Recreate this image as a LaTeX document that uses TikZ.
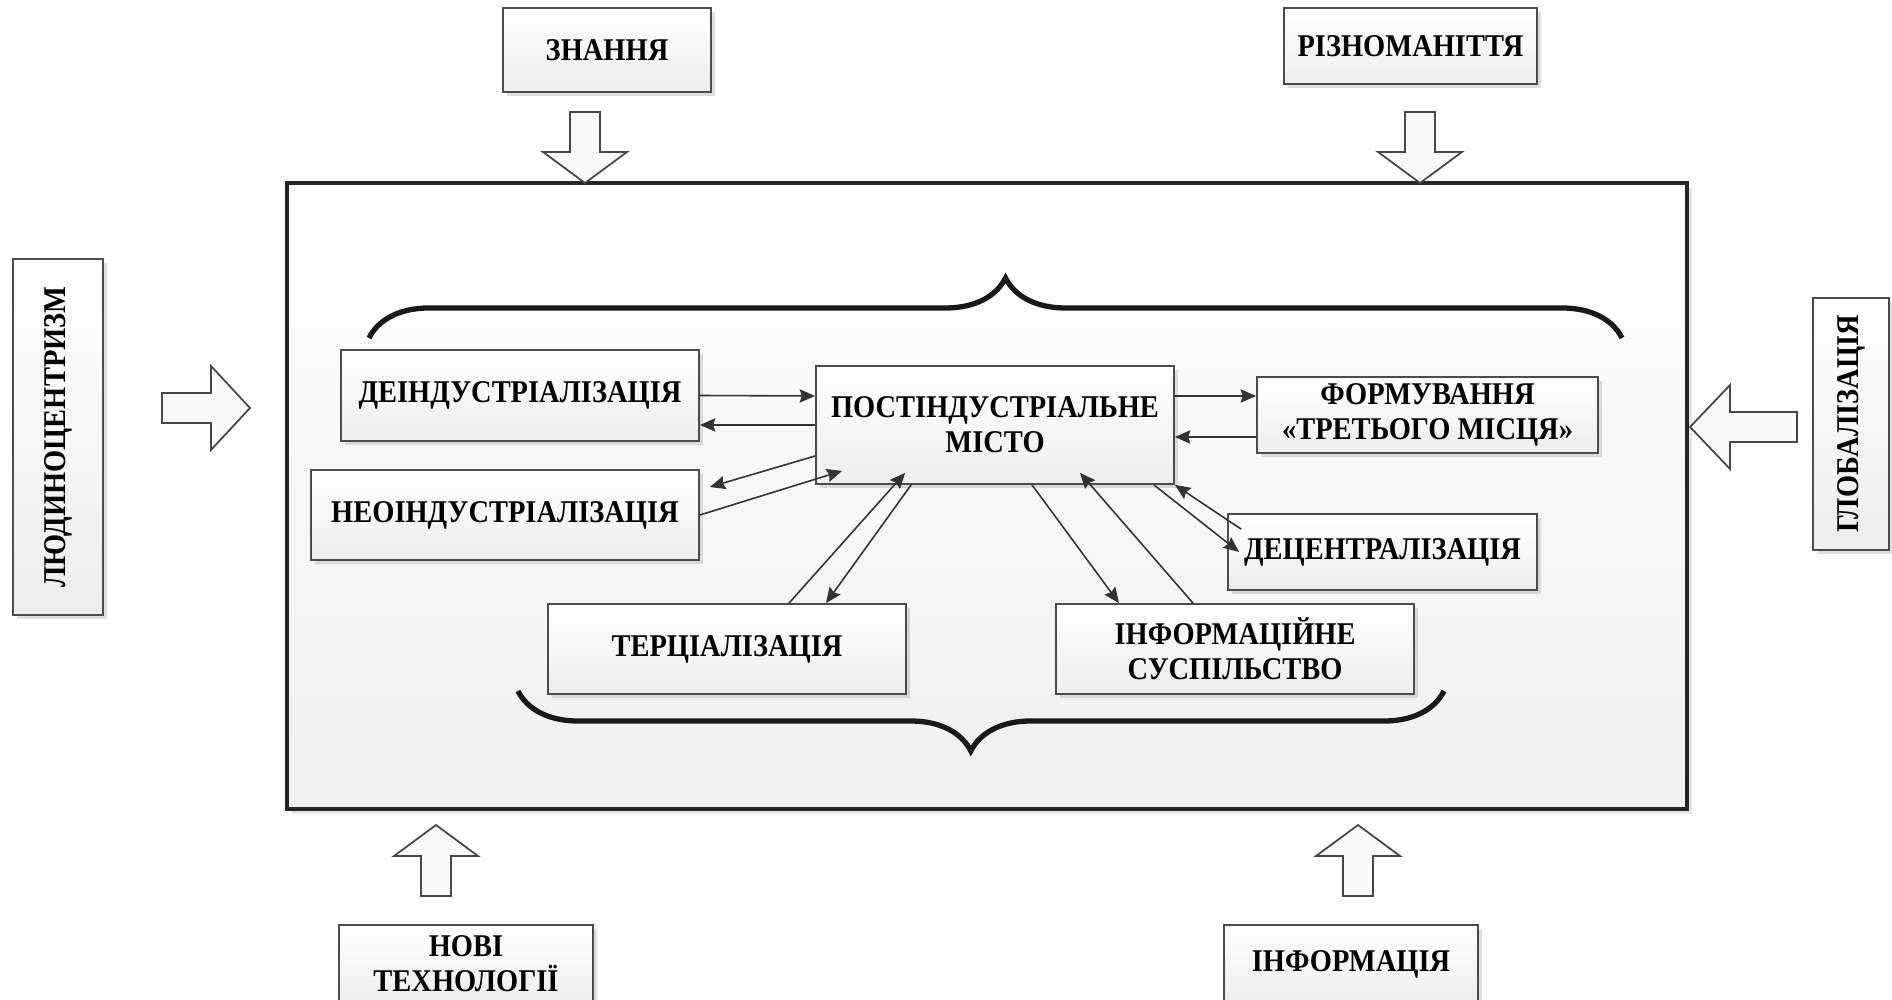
\documentclass[tikz,border=0pt]{standalone}
\usepackage{fontspec}
\setmainfont{Liberation Serif}[FakeStretch=0.9]
\usetikzlibrary{arrows.meta,shadows,decorations.pathreplacing}

\begin{document}
\begin{tikzpicture}
  [every node/.style={draw=gray!60!black,line width=0.5pt,top color=white,bottom color=gray!14,
     drop shadow={shadow xshift=0.4mm,shadow yshift=-0.4mm,opacity=0.25},
     align=center,inner sep=1pt,font=\bfseries\fontsize{9}{10}\selectfont},
   link/.style={draw=gray!40!black,line width=0.45pt,-{Stealth[length=4.4pt,width=3.8pt,inset=0.6pt]}},
   block/.style={draw=gray!55!black,line width=0.5pt,fill=gray!5},
   curly/.style={decorate,decoration={brace,amplitude=0.6cm,aspect=#1},draw=gray!20!black,line width=1.5pt}]
  \useasboundingbox (0,0) rectangle (18.92,-10);
  \clip (0,0) rectangle (18.92,-10);

  % frame and braces
  \draw[draw=gray!30!black,line width=0.9pt,top color=white,bottom color=gray!12,
    drop shadow={shadow xshift=0.5mm,shadow yshift=-0.5mm,opacity=0.2}] (2.87,-1.83) rectangle (16.87,-8.09);
  \draw[curly=0.508] (3.69,-3.38) -- (16.22,-3.38);
  \draw[curly=0.511] (14.44,-6.91) -- (5.18,-6.91);

  % block arrows
  \foreach \x/\y/\r/\h/\l in {5.85/-1.83/0/0.31/0.71, 14.20/-1.83/0/0.31/0.71,
      4.36/-8.25/180/0.31/0.71, 13.58/-8.25/180/0.31/0.71,
      2.50/-4.08/90/0.39/0.88, 16.90/-4.27/-90/0.40/1.07}
    \draw[block,shift={(\x,\y)},rotate=\r] (0,0) -- (0.42,\h) -- (0.15,\h) -- (0.15,\l)
      -- (-0.15,\l) -- (-0.15,\h) -- (-0.42,\h) -- cycle;

  \node (zn) at (6.07,-0.50) [minimum width=2.08cm,minimum height=0.84cm] {ЗНАННЯ};
  \node (riz) at (14.105,-0.46) [minimum width=2.53cm,minimum height=0.76cm] {РІЗНОМАНІТТЯ};
  \node (lyud) at (0.58,-4.37) [rotate=90,minimum width=3.56cm,minimum height=0.90cm] {ЛЮДИНОЦЕНТРИЗМ};
  \node (glob) at (18.51,-4.24) [rotate=90,minimum width=2.52cm,minimum height=0.76cm] {ГЛОБАЛІЗАЦІЯ};
  \node (novi) at (4.66,-9.64) [minimum width=2.54cm,minimum height=0.78cm] {НОВІ\\ТЕХНОЛОГІЇ};
  \node (info) at (13.51,-9.64) [minimum width=2.54cm,minimum height=0.78cm] {ІНФОРМАЦІЯ};

  \node (de) at (5.20,-3.955) [minimum width=3.58cm,minimum height=0.91cm] {ДЕІНДУСТРІАЛІЗАЦІЯ};
  \node (neo) at (5.05,-5.15) [minimum width=3.88cm,minimum height=0.90cm] {НЕОІНДУСТРІАЛІЗАЦІЯ};
  \node (post) at (9.95,-4.25) [minimum width=3.58cm,minimum height=1.18cm] {ПОСТІНДУСТРІАЛЬНЕ\\МІСТО};
  \node (form) at (14.275,-4.15) [minimum width=3.41cm,minimum height=0.76cm] {ФОРМУВАННЯ\\«ТРЕТЬОГО МІСЦЯ»};
  \node (dec) at (13.825,-5.52) [minimum width=3.09cm,minimum height=0.76cm] {ДЕЦЕНТРАЛІЗАЦІЯ};
  \node (ter) at (7.27,-6.49) [minimum width=3.58cm,minimum height=0.90cm] {ТЕРЦІАЛІЗАЦІЯ};
  \node (inf) at (12.35,-6.49) [minimum width=3.58cm,minimum height=0.90cm] {ІНФОРМАЦІЙНЕ\\СУСПІЛЬСТВО};

  % links
  \draw[link] (de.east) -- ([yshift=0.29cm]post.west);
  \draw[link] (post.west) -- ([yshift=-0.295cm]de.east);
  \draw[link] ([yshift=-0.31cm]post.west) -- ([shift={(0.10,0.28)}]neo.east);
  \draw[link] (neo.east) -- ([shift={(0.27,0.14)}]post.south west);
  \draw[link] ([xshift=0.62cm]ter.north) -- ([shift={(0.90,0.12)}]post.south west);
  \draw[link] ([xshift=0.96cm]post.south west) -- ([xshift=0.99cm]ter.north);
  \draw[link] ([xshift=0.37cm]post.south) -- ([xshift=-1.16cm]inf.north);
  \draw[link] ([xshift=-0.42cm]inf.north) -- ([shift={(0.85,0.12)}]post.south);
  \draw[link] ([xshift=-0.21cm]post.south east) -- ([xshift=0.12cm]dec.west);
  \draw[link] ([shift={(0.14,-0.16)}]dec.north west) -- (post.south east);
  \draw[link] ([yshift=0.29cm]post.east) -- ([yshift=0.19cm]form.west);
  \draw[link] ([yshift=-0.22cm]form.west) -- ([yshift=-0.12cm]post.east);
\end{tikzpicture}
\end{document}
